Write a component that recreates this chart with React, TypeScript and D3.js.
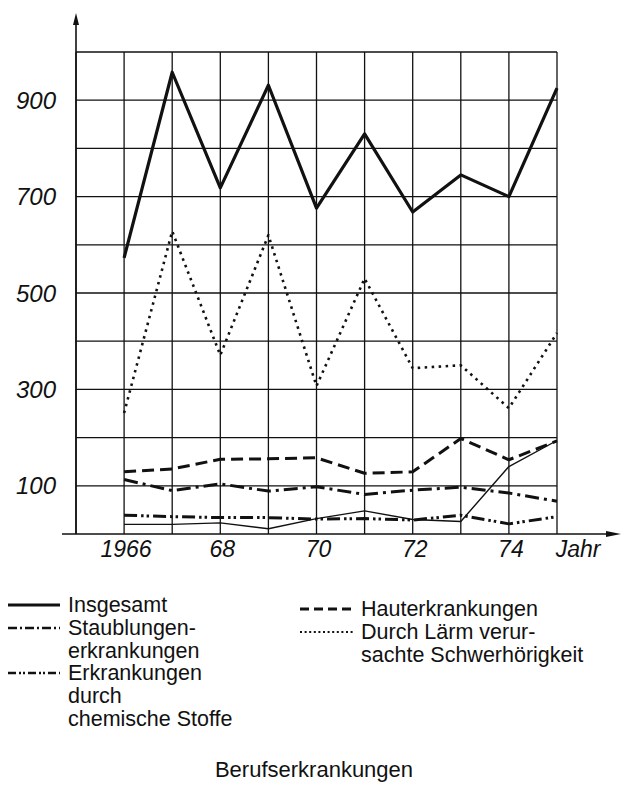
import React from "react";
import * as d3 from "d3";

const years = [1966, 1967, 1968, 1969, 1970, 1971, 1972, 1973, 1974, 1975];
const insgesamt = [573, 958, 718, 931, 676, 830, 668, 745, 700, 925];
const laerm = [251, 628, 371, 620, 307, 530, 344, 350, 261, 417];
const haut = [129, 135, 155, 156, 158, 126, 129, 198, 154, 193];
const staub = [113, 90, 104, 89, 98, 82, 91, 97, 85, 68];
const chem = [39, 36, 34, 34, 31, 32, 29, 39, 21, 36];
const sonstige = [20, 20, 23, 11, 32, 48, 30, 26, 140, 194];

const yTickLabels = ["900", "700", "500", "300", "100"];
const yTickValues = [900, 700, 500, 300, 100];
const xTickLabels = ["1966", "68", "70", "72", "74"];
const xTickValues = [1966, 1968, 1970, 1972, 1974];

const W = 628;
const H = 787;
const FONT = "'Liberation Sans', Arial, Helvetica, sans-serif";

export default function App() {
  const x = d3.scaleLinear().domain([1965, 1975]).range([76, 557]);
  const y = d3.scaleLinear().domain([0, 1000]).range([534, 52]);

  const line = d3
    .line<[number, number]>()
    .x((d) => x(d[0]))
    .y((d) => y(d[1]));

  const mk = (vals: number[]) => line(years.map((yr, i) => [yr, vals[i]] as [number, number])) || "";

  const gridYears = d3.range(1965, 1976);
  const gridVals = d3.range(100, 1001, 100);

  const series = [
    { vals: sonstige, w: 1.4, dash: undefined },
    { vals: chem, w: 3, dash: "13 4 2.5 3 2.5 4" },
    { vals: staub, w: 3, dash: "14 5 3 5" },
    { vals: haut, w: 3, dash: "12 6" },
    { vals: laerm, w: 2.6, dash: "2.5 4.5" },
    { vals: insgesamt, w: 3.2, dash: undefined },
  ];

  const legendLeft = [
    { lines: ["Insgesamt"], dash: undefined, w: 3, y: 605 },
    { lines: ["Staublungen-", "erkrankungen"], dash: "9 3 2 3", w: 2.5, y: 628 },
    { lines: ["Erkrankungen", "durch", "chemische Stoffe"], dash: "8 3 2 2 2 3", w: 2.5, y: 673 },
  ];
  const legendRight = [
    { lines: ["Hauterkrankungen"], dash: "9 5", w: 3, y: 609 },
    { lines: ["Durch Lärm verur-", "sachte Schwerhörigkeit"], dash: "2 2.6", w: 2, y: 632 },
  ];
  const lh = 23;

  return (
    <svg
      width={W}
      height={H}
      viewBox={`0 0 ${W} ${H}`}
      style={{ position: "absolute", left: 0, top: 0, background: "#fff" }}
      fontFamily={FONT}
    >
      <rect x={0} y={0} width={W} height={H} fill="#fff" />
      {gridYears.map((yr) => (
        <line key={"gx" + yr} x1={x(yr)} x2={x(yr)} y1={y(0)} y2={y(1000)} stroke="#111" strokeWidth={1.3} />
      ))}
      {gridVals.map((v) => (
        <line key={"gy" + v} x1={x(1965)} x2={x(1975)} y1={y(v)} y2={y(v)} stroke="#111" strokeWidth={1.3} />
      ))}
      <line x1={x(1965)} x2={x(1965)} y1={y(0)} y2={20} stroke="#111" strokeWidth={1.6} />
      <path d={`M${x(1965) - 3},${25} L${x(1965)},${13} L${x(1965) + 3},${25} Z`} fill="#111" />
      <line x1={62} x2={612} y1={y(0)} y2={y(0)} stroke="#111" strokeWidth={1.6} />
      <path d={`M${606},${y(0) - 3} L${621},${y(0)} L${606},${y(0) + 3} Z`} fill="#111" />

      {series.map((s, i) => (
        <path
          key={"s" + i}
          d={mk(s.vals)}
          fill="none"
          stroke="#111"
          strokeWidth={s.w}
          strokeDasharray={s.dash}
          strokeLinejoin="round"
        />
      ))}

      {yTickValues.map((v, i) => (
        <text
          key={"yl" + v}
          x={56}
          y={y(v)}
          dy="0.36em"
          textAnchor="end"
          fontSize={24}
          fontStyle="italic"
          fill="#111"
        >
          {yTickLabels[i]}
        </text>
      ))}
      {xTickValues.map((v, i) => (
        <text
          key={"xl" + v}
          x={x(v) + 2}
          y={557}
          textAnchor="middle"
          fontSize={23}
          fontStyle="italic"
          fill="#111"
        >
          {xTickLabels[i]}
        </text>
      ))}
      <text x={578} y={557} textAnchor="middle" fontSize={23} fontStyle="italic" fill="#111">
        Jahr
      </text>

      {legendLeft.map((l, i) => (
        <g key={"ll" + i}>
          <line x1={8} x2={60} y1={l.y} y2={l.y} stroke="#111" strokeWidth={l.w} strokeDasharray={l.dash} />
          {l.lines.map((t, j) => (
            <text key={j} x={68} y={l.y + 7 + j * lh} fontSize={21.5} fill="#111">
              {t}
            </text>
          ))}
        </g>
      ))}
      {legendRight.map((l, i) => (
        <g key={"lr" + i}>
          <line x1={300} x2={355} y1={l.y} y2={l.y} stroke="#111" strokeWidth={l.w} strokeDasharray={l.dash} />
          {l.lines.map((t, j) => (
            <text key={j} x={361} y={l.y + 7 + j * lh} fontSize={21.5} fill="#111">
              {t}
            </text>
          ))}
        </g>
      ))}

      <text x={314} y={777} textAnchor="middle" fontSize={22} fill="#111">
        Berufserkrankungen
      </text>
    </svg>
  );
}
